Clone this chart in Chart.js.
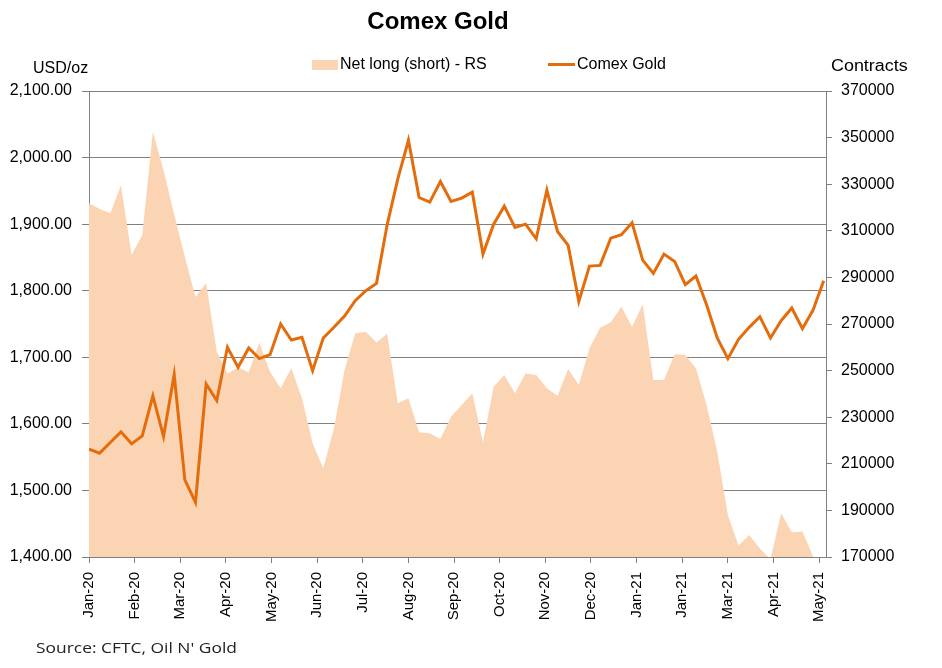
<!DOCTYPE html>
<html>
<head>
<meta charset="utf-8">
<title>Comex Gold</title>
<script src="https://cdn.jsdelivr.net/npm/chart.js@4.4.1/dist/chart.umd.min.js"></script>
<style>
  html, body { margin: 0; padding: 0; background: #fff; }
</style>
</head>
<body>
<canvas id="myChart" width="942" height="668"></canvas>
<script>
// month labels sit every 30 days from the first COT week (7 Jan 2020)
const xTickLabels = [
  "Jan-20", "Feb-20", "Mar-20", "Apr-20", "May-20", "Jun-20", "Jul-20", "Aug-20", "Sep-20",
  "Oct-20", "Nov-20", "Dec-20", "Jan-21", "Jan-21", "Mar-21", "Apr-21", "May-21",
];

// weekly Comex gold price, USD/oz
const goldPrice = [
  1562, 1556, 1572, 1588, 1570, 1582, 1642, 1581, 1674, 1516,
  1482, 1660, 1635, 1715, 1685, 1714, 1698, 1704, 1750, 1726,
  1730, 1680, 1729, 1745, 1762, 1785, 1800, 1811, 1899, 1968,
  2026, 1940, 1933, 1964, 1934, 1939, 1948, 1855, 1900, 1927,
  1895, 1900, 1878, 1951, 1889, 1868, 1784, 1837, 1838, 1879,
  1884, 1902, 1846, 1826, 1855, 1844, 1809, 1822, 1779, 1729,
  1698, 1727, 1745, 1761, 1729, 1755, 1774, 1743, 1771, 1815,
];

// weekly net long (short) position, contracts (right scale)
const netLong = [
  321800, 319400, 317500, 329400, 299600, 308200, 352500, 336000, 317000, 299000,
  281600, 287600, 258100, 248800, 251300, 249300, 262100, 249500, 242400, 251000,
  238100, 218800, 208100, 225200, 250300, 266000, 266700, 262100, 265800, 236000,
  238100, 223500, 223100, 220600, 230200, 235200, 240300, 219200, 243100, 248100,
  240300, 248800, 248100, 242400, 239200, 250700, 243800, 259600, 268400, 270700,
  277400, 268800, 278500, 246000, 246000, 257000, 256700, 251000, 235200, 215200,
  188000, 174900, 179400, 173700, 169000, 188800, 180600, 180900, 170300, 162000,
];

const lineColor = "#E46C0A";
const areaColor = "#FBD4B4";
const gridColor = "#808080";

const weekDays = goldPrice.map((v, i) => i * 7);
const tickDays = xTickLabels.map((v, i) => i * 30);

const textPlugin = {
  id: "chartText",
  afterDraw(chart) {
    const c = chart.ctx;
    c.save();
    c.fillStyle = "#000";
    c.textBaseline = "alphabetic";

    c.font = 'bold 24px "Liberation Sans", Arial, sans-serif';
    c.textAlign = "center";
    c.fillText("Comex Gold", 438, 29);

    c.font = '16px "Liberation Sans", Arial, sans-serif';
    c.textAlign = "left";
    c.fillText("USD/oz", 33, 73);
    c.save();
    c.translate(831, 71);
    c.scale(1.12, 1);
    c.fillText("Contracts", 0, 0);
    c.restore();

    // legend
    c.fillStyle = areaColor;
    c.fillRect(312, 60, 26, 10);
    c.fillStyle = "#000";
    c.fillText(chart.data.datasets[1].label, 340, 69);
    c.strokeStyle = lineColor;
    c.lineWidth = 3;
    c.beginPath();
    c.moveTo(548, 64.5);
    c.lineTo(575, 64.5);
    c.stroke();
    c.fillText(chart.data.datasets[0].label, 577, 69);

    // source note
    c.fillStyle = "#222";
    c.font = '15px "Open Sans", sans-serif';
    c.translate(36, 653);
    c.scale(1.16, 1);
    c.fillText("Source: CFTC, Oil N' Gold", 0, 0);
    c.restore();
  },
};

const ctx = document.getElementById("myChart");

new Chart(ctx, {
  type: "line",
  data: {
    datasets: [
      {
        label: "Comex Gold",
        data: weekDays.map((d, i) => ({ x: d, y: goldPrice[i] })),
        yAxisID: "y",
        borderColor: lineColor,
        borderWidth: 3,
        pointRadius: 0,
        fill: false,
        order: 1,
      },
      {
        label: "Net long (short) - RS",
        data: weekDays.map((d, i) => ({ x: d, y: netLong[i] })),
        yAxisID: "y1",
        borderWidth: 0,
        backgroundColor: areaColor,
        pointRadius: 0,
        fill: "start",
        order: 2,
      },
    ],
  },
  options: {
    responsive: false,
    animation: false,
    layout: { padding: { top: 91, left: 0, right: 0, bottom: 0 } },
    plugins: {
      legend: { display: false },
      title: { display: false },
      tooltip: { enabled: false },
    },
    scales: {
      x: {
        type: "linear",
        min: 0,
        max: 484.5,
        afterBuildTicks: (s) => {
          s.ticks = tickDays.map((v) => ({ value: v }));
        },
        afterFit: (s) => {
          s.height = 111;
        },
        ticks: {
          autoSkip: false,
          minRotation: 90,
          maxRotation: 90,
          padding: 9,
          color: "#000",
          font: { family: "Liberation Sans", size: 15 },
          callback: (v, i) => xTickLabels[i],
        },
        grid: { drawOnChartArea: false, tickLength: 6, color: gridColor },
        border: { color: gridColor },
      },
      y: {
        position: "left",
        min: 1400,
        max: 2100,
        afterFit: (s) => {
          s.width = 89;
        },
        ticks: {
          stepSize: 100,
          padding: 10,
          color: "#000",
          font: { family: "Liberation Sans", size: 16 },
          callback: (v) => v.toLocaleString("en-US", { minimumFractionDigits: 2, maximumFractionDigits: 2 }),
        },
        grid: { color: gridColor, tickLength: 7 },
        border: { color: gridColor },
      },
      y1: {
        position: "right",
        min: 170000,
        max: 370000,
        afterFit: (s) => {
          s.width = 116;
        },
        ticks: {
          stepSize: 20000,
          padding: 9,
          color: "#000",
          font: { family: "Liberation Sans", size: 16 },
          callback: (v) => String(v),
        },
        grid: { drawOnChartArea: false, tickLength: 6, color: gridColor },
        border: { color: gridColor },
      },
    },
  },
  plugins: [textPlugin],
});
</script>
</body>
</html>
